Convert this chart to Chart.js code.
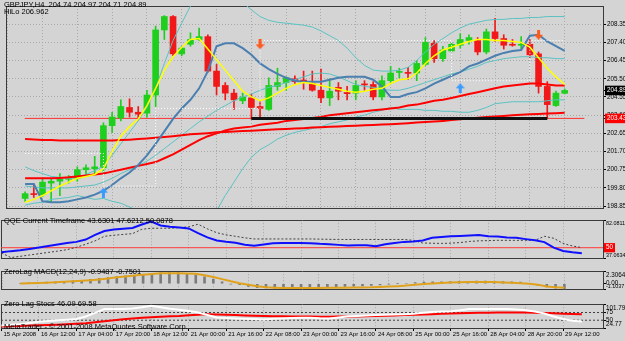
<!DOCTYPE html>
<html>
<head>
<meta charset="utf-8">
<script src="https://cdn.jsdelivr.net/npm/chart.js@4.4.1/dist/chart.umd.min.js"></script>
<style>
  html, body { margin: 0; padding: 0; background: #d4d4d4; }
  #wrap { position: relative; width: 625px; height: 341px; overflow: hidden; background: #d4d4d4; }
  #wrap canvas { position: absolute; left: 0; }
  .lbl { position: absolute; left: 4px; font: 7.5px 'Liberation Sans', Arial, sans-serif; line-height: 8px; color: #000; white-space: pre; z-index: 5; }
</style>
</head>
<body>
<div id="wrap">
  <canvas id="mainChart" width="625" height="214" style="top:0px"></canvas>
  <canvas id="qqeChart" width="625" height="51" style="top:214px"></canvas>
  <canvas id="macdChart" width="625" height="32" style="top:265px"></canvas>
  <canvas id="stochChart" width="625" height="44" style="top:297px"></canvas>
  <div class="lbl" style="top:1px">GBPJPY,H4  204.74 204.97 204.71 204.89</div>
  <div class="lbl" style="top:8px">HiLo 206.962</div>
  <div class="lbl" style="top:217px">QQE Current Timeframe 43.6301 47.6212 50.0878</div>
  <div class="lbl" style="top:268px">ZeroLag MACD(12,24,9) -0.9487 -0.7501</div>
  <div class="lbl" style="top:300px">Zero Lag Stocs 46.09 69.58</div>
  <div class="lbl" style="top:323px">MetaTrader - © 2001-2008 MetaQuotes Software Corp.</div>
</div>
<script>
// GBPJPY H4, 15 Apr 2008 .. 29 Apr 2008, one entry per bar
const open  = [199.25,199.50,199.45,200.05,200.15,200.25,200.30,200.75,200.80,200.85,203.05,203.45,204.00,203.75,203.70,204.65,208.05,208.75,206.80,207.30,207.55,207.70,205.90,205.15,204.75,204.35,204.50,204.05,203.90,205.10,205.30,205.50,205.42,205.25,204.90,204.50,205.05,204.78,204.75,205.22,205.20,204.55,205.40,205.83,205.82,205.80,206.25,207.35,206.55,206.95,207.25,207.50,207.50,206.90,207.95,207.60,207.30,207.25,207.30,206.80,205.10,204.10,204.74];
const high  = [199.60,200.00,200.30,200.30,200.55,200.45,200.90,201.00,201.45,203.20,203.75,204.40,204.45,204.05,204.90,208.25,208.80,208.80,207.20,207.90,208.15,207.80,206.25,205.30,204.95,204.75,204.70,204.35,205.55,206.05,205.60,205.65,205.90,205.90,206.00,205.50,205.30,205.10,205.40,205.40,205.35,205.65,206.15,206.05,206.10,206.45,207.65,207.50,207.20,207.40,207.85,207.80,207.65,208.10,208.65,207.80,207.55,207.70,207.55,206.90,205.35,204.85,204.97];
const low   = [199.10,199.30,199.35,199.05,199.40,200.05,200.15,200.50,200.55,200.60,202.70,203.30,203.50,203.35,203.50,204.05,207.55,206.70,206.70,207.20,207.50,205.85,204.65,204.40,203.90,204.20,203.40,203.40,203.85,204.90,204.90,205.20,204.95,204.85,204.25,204.10,204.40,204.40,204.40,204.90,204.40,204.40,205.30,205.55,205.45,205.40,206.20,206.35,206.40,206.90,207.10,207.30,206.75,206.80,207.45,207.05,207.20,207.00,206.60,204.75,203.45,204.05,204.71];
const close = [199.50,199.45,200.10,200.15,200.25,200.30,200.75,200.85,200.90,203.05,203.50,204.05,203.75,203.65,204.65,208.05,208.75,206.80,207.10,207.55,207.70,205.90,205.10,204.75,204.40,204.55,204.00,203.95,205.15,205.30,205.55,205.35,205.38,204.90,204.50,204.85,204.85,204.72,205.15,205.18,204.55,205.40,205.80,205.87,205.78,206.30,207.40,206.55,207.00,207.30,207.55,207.65,206.90,207.95,207.60,207.25,207.25,207.30,206.75,205.10,204.15,204.75,204.89];

// overlays on the price window
const fastLine  = [199.05,199.20,199.40,199.65,199.90,200.10,200.30,200.40,200.50,200.80,201.70,202.50,203.00,203.40,204.10,205.00,205.95,206.65,207.15,207.55,207.60,207.05,206.50,205.95,205.40,204.85,204.55,204.35,204.50,204.75,205.00,205.20,205.30,205.25,205.15,205.05,204.95,204.85,204.80,204.85,204.95,205.00,205.25,205.45,205.50,205.80,206.30,206.70,207.00,207.15,207.30,207.45,207.55,207.55,207.50,207.50,207.45,207.40,207.15,206.60,206.05,205.60,205.20];
const slowLine  = [200.00,200.00,199.10,199.05,199.05,199.10,199.20,199.30,199.45,199.65,199.95,200.30,200.60,201.00,201.50,202.10,202.75,203.40,203.95,204.40,205.00,205.90,207.20,207.35,207.35,207.10,206.75,206.30,206.00,205.75,205.55,205.40,205.35,205.35,205.35,205.45,205.55,205.60,205.60,205.60,205.45,205.10,204.55,204.55,204.70,204.80,205.00,205.25,205.45,205.65,205.85,206.15,206.30,206.50,206.70,206.85,206.95,207.00,207.75,207.80,207.45,207.20,206.95];
const bandUpper = [200.90,200.70,200.55,200.40,200.35,200.30,200.30,200.50,200.70,200.95,201.50,202.10,202.70,203.30,204.00,205.00,206.30,207.50,208.40,209.30,209.80,210.00,210.00,209.90,209.70,209.50,209.10,208.75,208.55,208.45,208.40,208.35,208.30,208.20,208.00,207.75,207.50,207.10,206.60,206.20,205.95,205.90,205.90,205.95,206.10,206.45,206.90,207.30,207.60,207.90,208.15,208.35,208.45,208.55,208.60,208.60,208.65,208.65,208.70,208.70,208.75,208.75,208.75];
const bandMid   = [199.90,199.85,199.80,199.80,199.80,199.80,199.85,199.90,199.95,200.10,200.30,200.55,200.75,200.95,201.20,201.50,201.85,202.20,202.55,202.90,203.25,203.55,203.85,204.10,204.35,204.55,204.70,204.90,205.05,205.15,205.30,205.45,205.60,205.75,205.80,205.75,205.60,205.40,205.20,205.10,205.05,204.95,204.90,204.90,205.00,205.15,205.30,205.45,205.60,205.75,205.85,206.00,206.15,206.35,206.45,206.55,206.60,206.65,206.65,206.60,206.60,206.55,206.55];
const bandLower = [198.90,199.00,199.05,199.20,199.25,199.30,199.40,199.30,199.20,199.25,199.10,199.00,198.80,198.60,198.40,198.00,197.40,196.90,196.70,196.50,196.70,197.10,198.60,199.40,200.10,200.80,201.40,201.80,202.05,202.35,202.55,202.70,202.80,202.90,203.00,203.15,203.25,203.35,203.50,203.60,203.75,203.85,204.00,203.90,203.90,203.90,203.85,203.85,203.80,203.80,203.75,203.75,203.85,204.00,204.20,204.25,204.30,204.30,204.30,204.30,204.35,204.40,204.40];
const maRedFast = [200.30,200.30,200.30,200.30,200.32,200.35,200.40,200.45,200.50,200.55,200.65,200.75,200.85,200.95,201.05,201.15,201.35,201.55,201.80,202.05,202.30,202.50,202.65,202.80,202.90,202.95,203.00,203.10,203.15,203.20,203.30,203.35,203.40,203.45,203.50,203.60,203.65,203.70,203.75,203.80,203.85,203.90,203.95,204.00,204.10,204.15,204.25,204.35,204.40,204.50,204.60,204.70,204.80,204.90,205.00,205.10,205.15,205.20,205.25,205.25,205.20,205.15,205.15];
const maRedSlow = [202.35,202.33,202.30,202.30,202.28,202.28,202.27,202.27,202.27,202.27,202.28,202.30,202.32,202.35,202.38,202.42,202.46,202.50,202.55,202.60,202.63,202.66,202.70,202.72,202.75,202.77,202.79,202.81,202.84,202.86,202.88,202.90,202.92,202.95,202.97,202.99,203.01,203.03,203.05,203.07,203.09,203.11,203.13,203.15,203.18,203.21,203.24,203.27,203.30,203.34,203.38,203.42,203.46,203.50,203.53,203.56,203.59,203.62,203.64,203.66,203.68,203.70,203.72];
const hiLo      = [201.60,201.60,201.60,201.60,201.60,201.60,201.60,201.60,201.60,199.90,199.90,199.90,199.90,199.90,199.90,203.95,203.95,203.95,203.95,203.95,203.95,203.95,203.95,203.95,203.95,203.95,203.95,207.50,207.50,207.50,207.50,207.50,207.50,207.50,207.50,207.50,207.50,207.50,207.50,207.50,207.50,207.50,207.50,207.50,207.50,207.50,207.50,207.50,207.50,205.40,205.40,205.40,205.40,205.40,205.40,205.40,205.40,205.40,207.50,207.50,207.50,207.50,207.50];
const arrowBar   = [9, 27, 50, 59];
const arrowPrice = [199.55, 207.30, 205.00, 207.80];
const arrowUp    = [true, false, true, false];
const levelPrice = 203.43;
const lastPrice  = 204.89;
const trendBars  = [26, 60];
const trendPrice = [203.42, 203.42];

// sub windows
const qqeMain   = [44.6,46.0,47.1,48.6,50.2,52.0,53.8,55.5,56.8,59.5,65.0,69.5,71.2,72.0,73.0,77.0,80.5,76.0,74.5,73.5,72.5,67.0,62.0,58.5,57.0,55.8,53.5,52.4,53.8,55.3,55.5,55.5,55.5,55.3,54.5,54.0,53.3,52.5,53.0,53.0,51.8,54.0,55.5,56.8,57.2,58.5,61.5,62.5,63.3,63.8,64.3,64.9,63.5,63.0,62.0,61.5,60.0,58.6,56.5,50.0,46.2,44.6,43.6];
const qqeSlow   = [44.0,38.5,39.9,41.5,43.0,44.5,46.0,47.7,50.5,54.0,58.0,63.3,64.5,65.5,66.4,71.5,72.7,72.7,72.7,73.5,74.3,77.4,72.0,67.5,65.0,63.3,61.5,60.2,60.2,60.2,60.2,60.2,60.2,60.2,60.0,59.8,59.6,59.6,59.6,59.6,59.6,59.6,59.6,59.6,58.6,55.5,55.2,55.0,55.3,56.0,57.3,58.0,58.3,58.6,58.6,58.6,58.6,58.6,63.3,61.0,55.0,52.0,50.1];
const qqeLevel  = 50;
const macdHist  = [0.10,0.15,0.20,0.30,0.35,0.45,0.55,0.65,0.80,1.00,1.15,1.30,1.45,1.45,1.55,1.75,2.00,2.05,2.05,1.85,1.65,1.25,0.85,0.35,-0.05,-0.15,-0.50,-0.70,-0.75,-0.80,-0.80,-0.80,-0.80,-0.75,-0.70,-0.65,-0.60,-0.50,-0.45,-0.40,-0.30,-0.20,-0.05,0.05,0.10,0.20,0.30,0.35,0.35,0.40,0.45,0.45,0.50,0.50,0.45,0.40,0.35,0.30,0.10,-0.30,-0.60,-0.80,-0.95];
const macdSig   = [0.05,0.10,0.15,0.20,0.27,0.35,0.45,0.55,0.66,0.80,0.95,1.20,1.35,1.50,1.65,1.80,1.92,1.95,1.95,1.90,1.82,1.55,1.25,0.85,0.45,0.10,-0.20,-0.45,-0.63,-0.72,-0.79,-0.80,-0.79,-0.78,-0.77,-0.75,-0.73,-0.72,-0.70,-0.68,-0.66,-0.60,-0.52,-0.44,-0.33,-0.20,-0.05,0.05,0.15,0.22,0.27,0.30,0.33,0.34,0.30,0.25,0.19,0.10,0.00,-0.20,-0.50,-0.65,-0.75];
const stochMain = [32.5,35.0,36.8,41.0,45.3,47.5,49.7,51.5,53.8,62.0,74.0,86.4,86.4,86.4,88.2,92.0,96.6,92.3,87.0,84.0,80.0,75.3,67.0,59.0,57.0,55.6,54.5,53.8,52.2,54.5,55.6,57.0,58.1,58.1,56.5,55.6,59.0,62.5,63.5,65.0,66.6,67.5,68.5,69.2,71.0,74.0,76.5,78.5,79.4,82.5,86.4,86.4,86.4,86.4,86.4,84.5,82.0,78.5,72.0,62.0,53.8,48.5,46.1];
const stochSig  = [29.9,30.5,31.5,32.5,33.5,34.5,35.5,36.8,38.5,40.5,43.5,47.0,50.0,53.0,55.6,58.0,59.9,61.5,63.0,64.0,66.0,68.0,69.2,68.5,67.5,66.6,65.5,64.5,63.5,62.5,62.5,62.3,62.0,61.8,61.6,61.6,61.8,62.0,62.3,62.5,63.5,64.5,65.5,66.6,67.5,68.5,69.5,71.0,72.0,72.8,73.5,74.0,74.5,75.0,75.3,75.3,75.0,74.5,73.5,72.5,71.0,70.0,69.6];
const stochLevels = [75, 50];

// axes
const timeBars   = [0, 4, 8, 12, 16, 20, 24, 28, 32, 36, 40, 44, 48, 52, 56, 60];
const timeLabels = ['15 Apr 2008','16 Apr 12:00','17 Apr 04:00','17 Apr 20:00','18 Apr 12:00','21 Apr 00:00','21 Apr 16:00','22 Apr 08:00','23 Apr 00:00','23 Apr 16:00','24 Apr 08:00','25 Apr 00:00','25 Apr 16:00','28 Apr 04:00','28 Apr 20:00','29 Apr 12:00'];
const priceTicks = [198.85, 199.80, 200.75, 201.70, 202.65, 203.60, 204.55, 205.50, 206.45, 207.40, 208.35];
const qqeTicks   = [82.0811, 50, 37.0634];
const qqeText    = ['82.0811', '50', '37.0634'];
const macdTicks  = [2.3064, 0, -1.1037];
const macdText   = ['2.3064', '0.00', '-1.1037'];
const stochTicks = [101.79, 75, 50, 24.77];
const stochText  = ['101.79', '75', '50', '24.77'];

const FONT = "'Liberation Sans', Arial, sans-serif";
const GRID = '#a9a9a9';
const FRAME = '#3a3a3a';
const BULL = '#1ecf1e';
const BEAR = '#f01818';
const X_MIN = -0.05, X_MAX = 64.26;

const pts = arr => arr.map((v, i) => ({x: i, y: v}));
const flat = v => [{x: X_MIN, y: v}, {x: X_MAX, y: v}];

function arrowImage(up, color) {
  const c = document.createElement('canvas');
  c.width = 9; c.height = 10;
  const g = c.getContext('2d');
  g.fillStyle = color;
  g.beginPath();
  if (up) {
    g.moveTo(4.5, 0); g.lineTo(9, 5); g.lineTo(6, 5); g.lineTo(6, 10); g.lineTo(3, 10); g.lineTo(3, 5); g.lineTo(0, 5);
  } else {
    g.moveTo(4.5, 10); g.lineTo(9, 5); g.lineTo(6, 5); g.lineTo(6, 0); g.lineTo(3, 0); g.lineTo(3, 5); g.lineTo(0, 5);
  }
  g.closePath();
  g.fill();
  return c;
}
const upImg = arrowImage(true, '#3a9bff');
const downImg = arrowImage(false, '#ff5a1e');

function xAxis(showLabels) {
  return {
    type: 'linear', position: 'bottom', min: X_MIN, max: X_MAX,
    afterBuildTicks: s => { s.ticks = timeBars.map(v => ({value: v})); },
    afterFit: s => { s.height = showLabels ? 12 : 0; },
    grid: { color: GRID, drawTicks: showLabels, tickLength: 3, tickColor: '#000' },
    border: { color: FRAME, dash: [1, 2] },
    ticks: {
      display: showLabels, align: 'start', padding: 0, labelOffset: 2, maxRotation: 0, autoSkip: false,
      font: { family: FONT, size: 6 }, color: '#000',
      callback: (v, i) => timeLabels[i]
    }
  };
}

const frameScales = {
  xt: { type: 'linear', position: 'top', min: 0, max: 1, grid: { display: false }, ticks: { display: false },
        border: { color: FRAME }, afterFit: s => { s.height = 0; } },
  yl: { type: 'linear', position: 'left', min: 0, max: 1, grid: { display: false }, ticks: { display: false },
        border: { color: FRAME }, afterFit: s => { s.width = 0; } }
};

function subY(min, max, vals, texts, mark) {
  const last = vals.length - 1;
  return {
    type: 'linear', position: 'right', min: min, max: max,
    afterBuildTicks: s => { s.ticks = vals.map(v => ({value: v})); },
    afterFit: s => { s.width = 22; },
    grid: { drawOnChartArea: false, tickLength: 3, tickColor: '#000' },
    border: { color: FRAME },
    ticks: {
      autoSkip: false, padding: 0,
      font: c => ({ family: FONT, size: (texts[c.index] || '').length > 6 ? 5.4 : 6.3, lineHeight: 1.15 }),
      color: c => c.index === mark ? '#fff' : '#000',
      showLabelBackdrop: c => c.index === mark,
      backdropColor: '#ff0000', backdropPadding: { x: 2, y: 1 },
      callback: (v, i) => i === 0 ? ['', texts[i]] : (i === last ? [texts[i], ''] : texts[i])
    }
  };
}

function panel(id, datasets, y, showLabels, pad) {
  return new Chart(document.getElementById(id), {
    type: 'line',
    data: { datasets: datasets },
    options: {
      responsive: false, animation: false, events: [],
      layout: { padding: pad },
      plugins: { legend: { display: false }, tooltip: { enabled: false } },
      elements: { point: { radius: 0 }, line: { tension: 0 } },
      scales: Object.assign({ x: xAxis(showLabels), y: y }, frameScales)
    }
  });
}

// price window
const isMark = v => v === lastPrice || v === levelPrice;
const candleColor = open.map((o, i) => close[i] >= o ? BULL : BEAR);
const mainY = {
  type: 'linear', position: 'right', min: 198.75, max: 209.30,
  afterBuildTicks: s => { s.ticks = priceTicks.concat([lastPrice, levelPrice]).map(v => ({value: v})); },
  afterFit: s => { s.width = 22; },
  grid: { color: c => (c.tick && isMark(c.tick.value)) ? 'rgba(0,0,0,0)' : GRID, tickLength: 3, tickColor: '#000' },
  border: { color: FRAME, dash: [1, 2] },
  ticks: {
    autoSkip: false, font: { family: FONT, size: 6.3 }, padding: 1,
    color: c => (c.tick && isMark(c.tick.value)) ? '#fff' : '#000',
    showLabelBackdrop: c => !!(c.tick && isMark(c.tick.value)),
    backdropColor: c => (c.tick && c.tick.value === lastPrice) ? '#000' : '#ff0000',
    backdropPadding: { x: 2, y: 1 },
    callback: v => v.toFixed(2)
  }
};

panel('mainChart', [
  { type: 'line', data: flat(levelPrice), borderColor: '#ff3030', borderWidth: 1, order: 12 },
  { type: 'bar', data: open.map((o, i) => ({x: i, y: [low[i], high[i]]})), backgroundColor: candleColor,
    barThickness: 1, grouped: false, order: 11 },
  { type: 'bar', data: open.map((o, i) => ({x: i, y: [o, close[i]]})), backgroundColor: candleColor,
    barThickness: 6, minBarLength: 1, grouped: false, order: 10 },
  { type: 'line', data: pts(bandUpper), borderColor: '#5cc2c2', borderWidth: 1, order: 6 },
  { type: 'line', data: pts(bandMid), borderColor: '#5cc2c2', borderWidth: 1, order: 6 },
  { type: 'line', data: pts(bandLower), borderColor: '#5cc2c2', borderWidth: 1, order: 6 },
  { type: 'line', data: pts(maRedSlow), borderColor: '#ff0000', borderWidth: 2, order: 5 },
  { type: 'line', data: pts(maRedFast), borderColor: '#ff0000', borderWidth: 2, order: 5 },
  { type: 'line', data: pts(slowLine), borderColor: '#4a7fb0', borderWidth: 2, order: 4 },
  { type: 'line', data: pts(fastLine), borderColor: '#ffff00', borderWidth: 1.5, order: 3 },
  { type: 'line', data: pts(hiLo), borderColor: '#ffffff', borderWidth: 1, borderDash: [1, 2], stepped: true, order: 2 },
  { type: 'line', data: trendBars.map((b, i) => ({x: b, y: trendPrice[i]})), borderColor: '#111111', borderWidth: 3, order: 1 },
  { type: 'line', showLine: false, data: arrowBar.map((b, i) => ({x: b, y: arrowPrice[i]})),
    pointStyle: arrowUp.map(u => u ? upImg : downImg), pointRadius: 5, order: 0 }
], mainY, false, { top: 2, bottom: 1, left: 1, right: 0 });

panel('qqeChart', [
  { type: 'line', data: flat(qqeLevel), borderColor: '#ff3a3a', borderWidth: 1, order: 3 },
  { type: 'line', data: pts(qqeSlow), borderColor: '#404040', borderWidth: 1, borderDash: [2, 2], order: 2 },
  { type: 'line', data: pts(qqeMain), borderColor: '#1010ff', borderWidth: 2, order: 1 }
], subY(37.0634, 82.0811, qqeTicks, qqeText, 1), false, { top: 1, bottom: 1, left: 1, right: 0 });

panel('macdChart', [
  { type: 'bar', data: pts(macdHist), backgroundColor: '#7c7c7c', barThickness: 2, grouped: false, order: 2 },
  { type: 'line', data: pts(macdSig), borderColor: '#e0a21c', borderWidth: 2, order: 1 }
], subY(-1.1037, 2.3064, macdTicks, macdText, -1), false, { top: 1, bottom: 1, left: 1, right: 0 });

panel('stochChart', stochLevels.map(v => (
  { type: 'line', data: flat(v), borderColor: '#404040', borderWidth: 1, borderDash: [2, 2], order: 3 }
)).concat([
  { type: 'line', data: pts(stochSig), borderColor: '#ff0000', borderWidth: 2, order: 2 },
  { type: 'line', data: pts(stochMain), borderColor: '#ffffff', borderWidth: 2, order: 1 }
]), subY(24.77, 101.79, stochTicks, stochText, -1), true, { top: 1, bottom: 1, left: 1, right: 0 });
</script>
</body>
</html>
